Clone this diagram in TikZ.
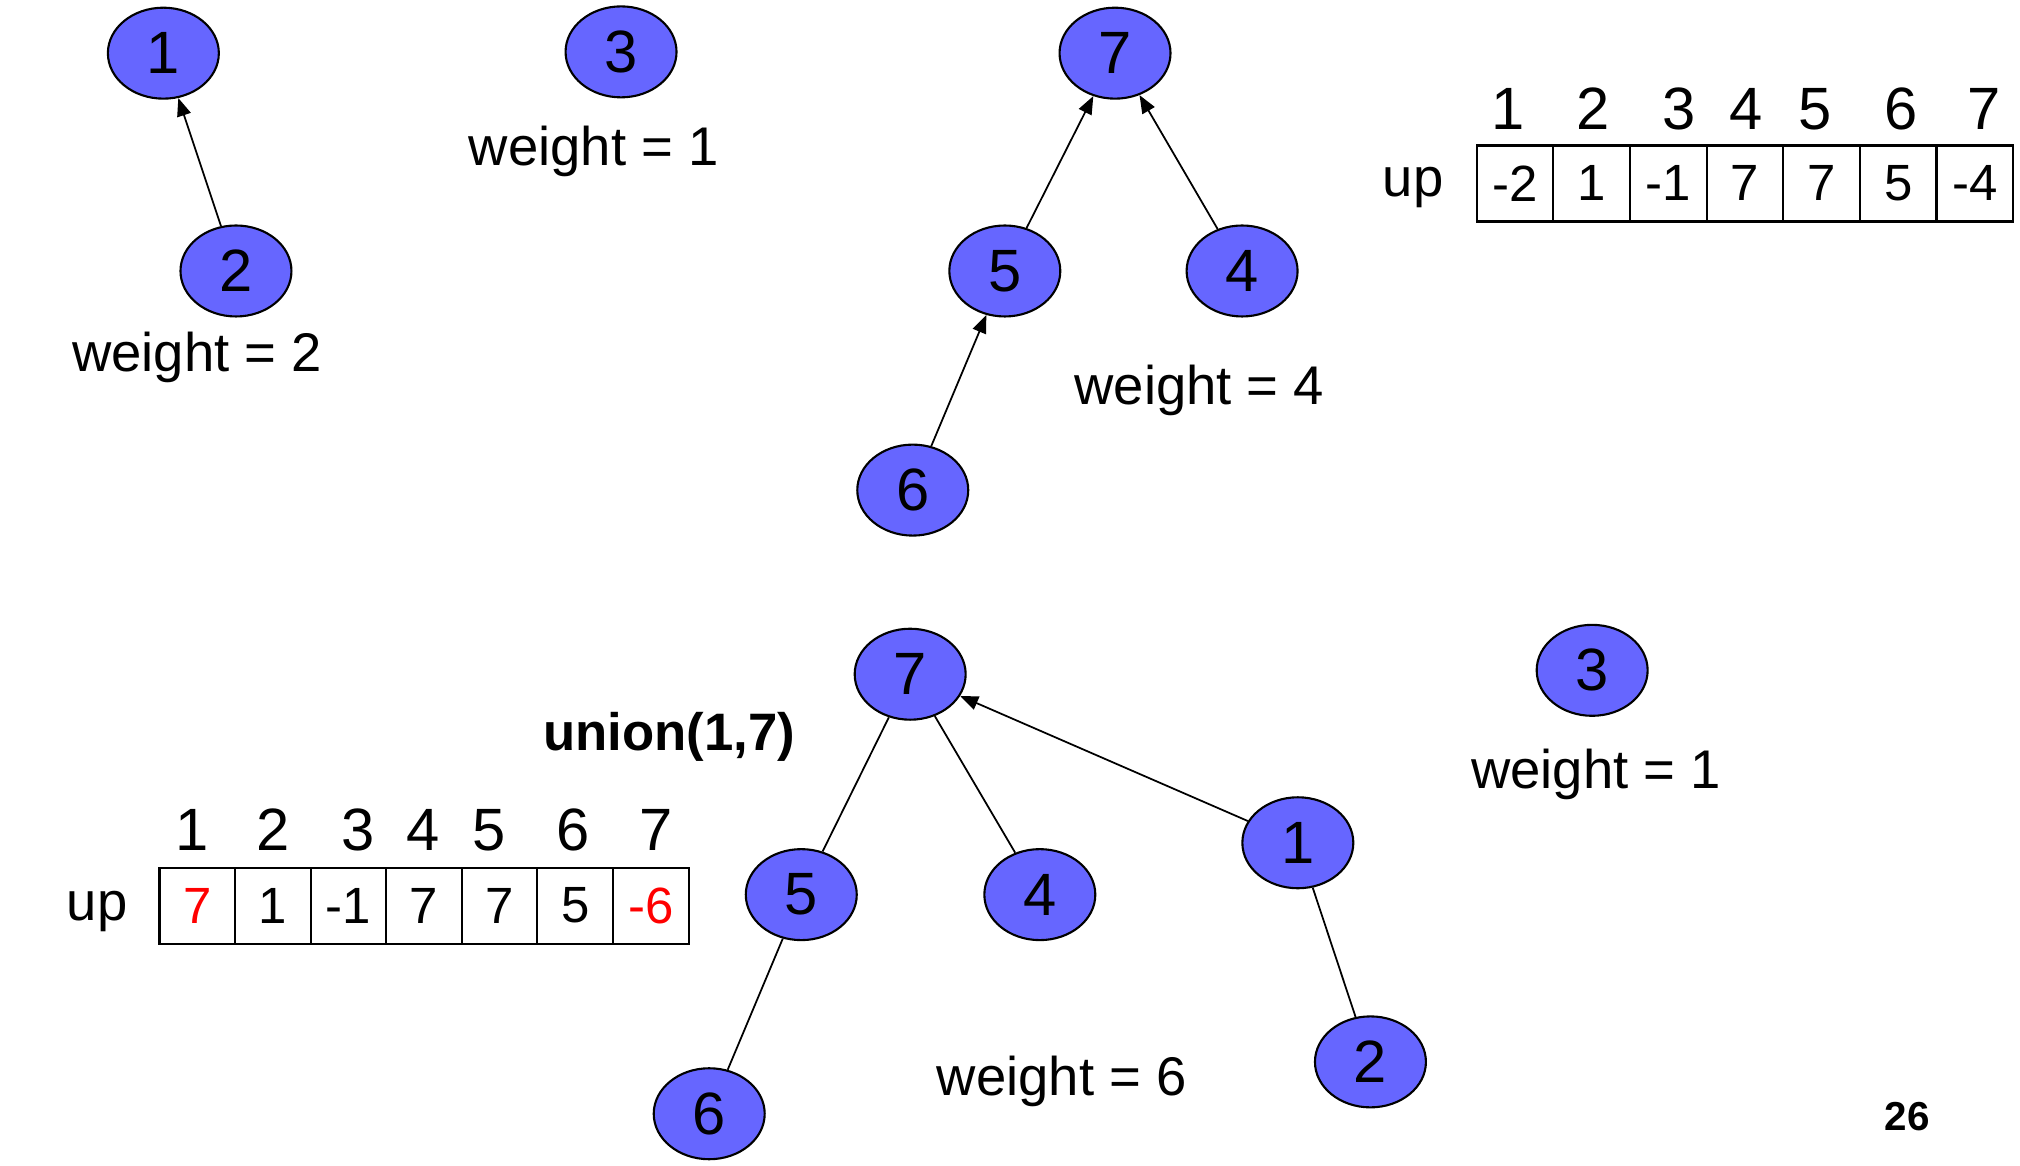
\documentclass[tikz,border=0pt]{standalone}
\usepackage{fontspec}
\setmainfont{Liberation Sans}
\usetikzlibrary{shapes.geometric,arrows.meta}
\definecolor{nodeblue}{RGB}{102,102,255}
\tikzset{
  vert/.style={ellipse,draw,fill=nodeblue,minimum width=11.1mm,minimum height=9.1mm,inner sep=0pt,line width=0.6pt,font=\fontsize{17}{20}\selectfont},
  cell/.style={draw,minimum width=#1,minimum height=7.6mm,inner sep=0pt,line width=0.6pt,font=\fontsize{14.5}{17}\selectfont},
  idx/.style={font=\fontsize{17}{20}\selectfont},
  link/.style={line width=0.5pt},
  uplink/.style={line width=0.5pt,-{Triangle[length=1.8mm,width=1.4mm]}}
}

\begin{document}
\begin{tikzpicture}
        [x=0.1297mm,y=-0.1297mm,font=\fontsize{15.5}{18}\selectfont]
        \useasboundingbox (0,0) rectangle (1558,899);

        % before the union
        \node[vert] (a1) at (126,41) {1};
        \node[vert] (a2) at (182,209) {2};
        \node (wa) at (152,276) {weight = 2};
        \draw[uplink] (a2) -- (a1);

        \node[vert] (b3) at (479,40) {3};
        \node (wb) at (458,117) {weight = 1};

        \node[vert] (c7) at (860,41) {7};
        \node[vert] (c5) at (775,209) {5};
        \node[vert] (c4) at (958,209) {4};
        \node[vert] (c6) at (704,378) {6};
        \node (wc) at (925,301) {weight = 4};
        \draw[uplink] (c5) -- (c7);
        \draw[uplink] (c4) -- (c7);
        \draw[uplink] (c6) -- (c5);

        \node (upA) at (1090,145) {up};
        \foreach \n/\x in {1/1163,2/1229,3/1295,4/1347,5/1400,6/1466,7/1530}
        {\node[idx] (idxA\n) at (\x,84) {\n};}
        \foreach \v [count=\i] in {-2,1,-1,7,7,5,-4}
        {\node[cell=7.66mm] (cellA\i) at ({1139+59.1*(\i-0.5)},141.5) {\v};}

        % after union(1,7)
        \node[font=\fontsize{15}{18}\selectfont\bfseries] (op) at (516,568) {union(1,7)};

        \node[vert] (d7) at (702,520) {7};
        \node[vert] (d5) at (618,690) {5};
        \node[vert] (d4) at (802,690) {4};
        \node[vert] (d6) at (547,859) {6};
        \node[vert] (d1) at (1001,650) {1};
        \node[vert] (d2) at (1057,819) {2};
        \node (wd) at (819,834) {weight = 6};
        \draw[uplink] (d1) -- (d7);
        \draw[link] (d7) -- (d5);
        \draw[link] (d7) -- (d4);
        \draw[link] (d5) -- (d6);
        \draw[link] (d1) -- (d2);

        \node[vert] (e3) at (1228,517) {3};
        \node (we) at (1231,597) {weight = 1};

        \node (upB) at (75,703) {up};
        \foreach \n/\x in {1/148,2/211,3/276,4/326,5/377,6/442,7/506}
        {\node[idx] (idxB\n) at (\x,640) {\n};}
        \foreach \v/\c [count=\i] in {7/red,1/black,-1/black,7/black,7/black,5/black,-6/red}
        {\node[cell=7.56mm,text=\c] (cellB\i) at ({123+58.3*(\i-0.5)},698.5) {\v};}

        \node[font=\fontsize{11.5}{13}\selectfont\bfseries] (page) at (1471,861) {26};
      \end{tikzpicture}
\end{document}
